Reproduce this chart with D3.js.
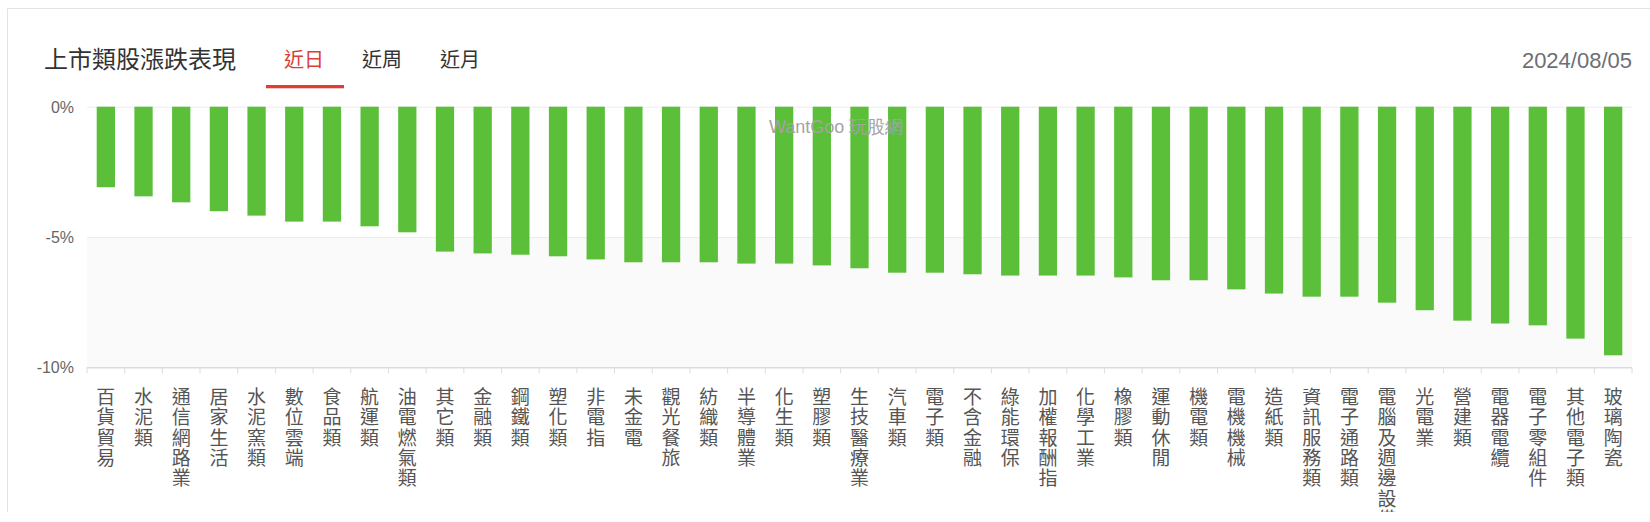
<!DOCTYPE html>
<html>
<head>
<meta charset="utf-8">
<script src="https://cdn.jsdelivr.net/npm/d3@7"></script>
<style>
  html, body { margin: 0; padding: 0; background: #fff; }
  svg { display: block; }
</style>
</head>
<body>
<div id="chart"></div>
<script>
// 上市類股 近日漲跌 (%)
var categories = ["百貨貿易","水泥類","通信網路業","居家生活","水泥窯類","數位雲端","食品類","航運類","油電燃氣類","其它類",
    "金融類","鋼鐵類","塑化類","非電指","未金電","觀光餐旅","紡織類","半導體業","化生類","塑膠類",
    "生技醫療業","汽車類","電子類","不含金融","綠能環保","加權報酬指","化學工業","橡膠類","運動休閒","機電類",
    "電機機械","造紙類","資訊服務類","電子通路類","電腦及週邊設備","光電業","營建類","電器電纜","電子零組件","其他電子類","玻璃陶瓷"];
var changes = [-3.09,-3.44,-3.67,-4.01,-4.18,-4.41,-4.41,-4.59,-4.82,-5.56,
    -5.63,-5.68,-5.74,-5.86,-5.97,-5.97,-5.97,-6.02,-6.02,-6.09,
    -6.20,-6.37,-6.37,-6.43,-6.48,-6.48,-6.48,-6.55,-6.66,-6.66,
    -7.01,-7.17,-7.29,-7.29,-7.52,-7.81,-8.21,-8.32,-8.39,-8.90,-9.54];
var yTicks = [0, -5, -10];
var tabs = ["近日", "近周", "近月"];
var dateLabel = "2024/08/05";

var width = 1650, height = 512;
var plotL = 87, plotR = 1632, plotT = 106.7, plotB = 367.3;
var cjk = "'Noto Sans CJK TC', 'Noto Sans CJK SC', sans-serif";
var latin = "'Liberation Sans', Arial, Helvetica, sans-serif";

var svg = d3.select("#chart").append("svg")
    .attr("width", width)
    .attr("height", height);

// card border
svg.append("path")
    .attr("d", "M7.5," + (height + 10) + "V8.5H" + (width + 10))
    .attr("fill", "none")
    .attr("stroke", "#e3e3e3")
    .attr("stroke-width", 1);

// header
svg.append("text")
    .attr("x", 44).attr("y", 68)
    .style("font-family", cjk).style("font-size", "24px")
    .attr("fill", "#333")
    .text("上市類股漲跌表現");

var tabX = [304, 382, 460];
svg.selectAll(".tab")
    .data(tabs)
    .enter().append("text")
    .attr("class", "tab")
    .attr("x", function(d, i) { return tabX[i]; })
    .attr("y", 67)
    .attr("text-anchor", "middle")
    .style("font-family", cjk).style("font-size", "20px")
    .attr("fill", function(d, i) { return i == 0 ? "#d9403a" : "#333"; })
    .text(function(d) { return d; });

svg.append("rect")
    .attr("x", 266).attr("y", 85)
    .attr("width", 78).attr("height", 3.3)
    .attr("fill", "#d9403a");

svg.append("text")
    .attr("x", plotR).attr("y", 67.5)
    .attr("text-anchor", "end")
    .style("font-family", latin).style("font-size", "22px")
    .attr("fill", "#6c7075")
    .text(dateLabel);

// scales
var x = d3.scaleBand()
    .domain(categories)
    .range([plotL, plotR])
    .paddingInner(0.515)
    .paddingOuter(0.2575);

var y = d3.scaleLinear()
    .domain([0, -10])
    .range([plotT, plotB]);

// shaded band between -5% and -10%
svg.append("rect")
    .attr("x", plotL).attr("y", y(-5))
    .attr("width", plotR - plotL).attr("height", y(-10) - y(-5))
    .attr("fill", "#fafafa");

// grid + y labels
var yAxis = svg.append("g")
    .attr("transform", "translate(" + plotL + ",0)")
    .call(d3.axisLeft(y)
        .tickValues(yTicks)
        .tickSize(-(plotR - plotL))
        .tickPadding(13)
        .tickFormat(function(d) { return d + "%"; }));
yAxis.select(".domain").remove();
yAxis.selectAll(".tick line")
    .attr("stroke", function(d) { return d == -10 ? "#dcdcdc" : "#ececec"; })
    .attr("stroke-width", function(d) { return d == -10 ? 1.5 : 1; });
yAxis.selectAll(".tick text")
    .attr("dy", "0.35em")
    .style("font-family", latin).style("font-size", "16px")
    .attr("fill", "#666");

// category boundary ticks
var bounds = d3.range(categories.length + 1);
svg.selectAll(".xtick")
    .data(bounds)
    .enter().append("line")
    .attr("class", "xtick")
    .attr("x1", function(i) { return plotL + i * x.step(); })
    .attr("x2", function(i) { return plotL + i * x.step(); })
    .attr("y1", plotB)
    .attr("y2", plotB + 6)
    .attr("stroke", "#dcdcdc")
    .attr("stroke-width", 1);

// bars
svg.selectAll(".bar")
    .data(categories)
    .enter().append("rect")
    .attr("class", "bar")
    .attr("x", function(d) { return x(d); })
    .attr("y", y(0))
    .attr("width", x.bandwidth())
    .attr("height", function(d, i) { return y(changes[i]) - y(0); })
    .attr("fill", "#5bbf3a");

// watermark (drawn over the bars)
svg.append("text")
    .attr("x", 769).attr("y", 133)
    .style("font-family", latin).style("font-size", "18px")
    .attr("fill", "#a3a3a3")
    .text("WantGoo 玩股網");

// vertical category labels
var label = svg.selectAll(".xlabel")
    .data(categories)
    .enter().append("text")
    .attr("class", "xlabel")
    .attr("transform", function(d) { return "translate(" + (x(d) + x.bandwidth() / 2) + ",404)"; })
    .attr("text-anchor", "middle")
    .style("font-family", cjk).style("font-size", "19px")
    .attr("fill", "#555");

label.selectAll("tspan")
    .data(function(d) { return Array.from(d); })
    .enter().append("tspan")
    .attr("x", 0)
    .attr("y", function(c, i) { return i * 20.3; })
    .text(function(c) { return c; });
</script>
</body>
</html>
